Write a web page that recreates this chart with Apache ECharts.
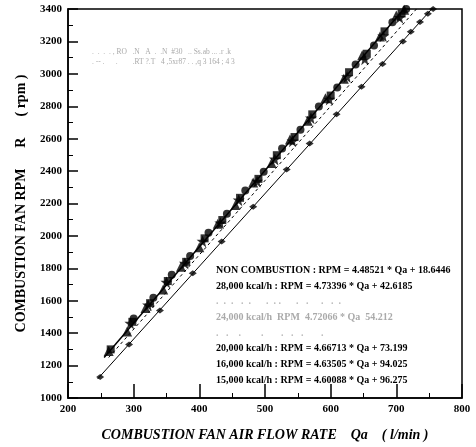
<!DOCTYPE html>
<html>
<head>
<meta charset="utf-8">
<script src="https://cdn.jsdelivr.net/npm/echarts@6/dist/echarts.min.js"></script>
<style>
  html, body { margin: 0; padding: 0; background: #fff; }
  #chart { width: 476px; height: 447px; }
</style>
</head>
<body>
<div id="chart"></div>
<script>
// data (Qa in l/min, RPM)
var nonComb = [[249,1130],[293,1330],[340,1540],[390,1770],[434,1965],[482,2180],[533,2410],
  [568,2570],[609,2750],[647,2920],[679,3060],[710,3200],[722,3260],[736,3320],[748,3370],[756,3400]];
var kcal28000 = [[262,1290],[290,1410],[318,1555],[345,1670],[372,1810],[400,1930],[428,2075],
  [455,2190],[482,2330],[510,2450],[538,2595],[565,2710],[592,2850],[620,2970],[648,3115],[675,3230],[700,3360],[712,3395]];
var kcal20000 = [[265,1300],[298,1470],[325,1585],[352,1722],[380,1840],[408,1985],[435,2098],
  [462,2235],[490,2352],[518,2498],[545,2610],[572,2750],[600,2866],[628,3010],[655,3124],[682,3262],[708,3372]];
var kcal16000 = [[300,1490],[330,1618],[358,1760],[386,1876],[414,2020],[442,2137],[470,2280],
  [498,2396],[526,2540],[554,2655],[582,2798],[610,2915],[638,3058],[666,3175],[694,3318],[715,3400]];
var kcal15000 = [[295,1460],[322,1572],[350,1712],[378,1830],[405,1966],[432,2078],[460,2220],
  [488,2336],[515,2472],[542,2584],[570,2726],[598,2842],[625,2980],[652,3090],[680,3232],[705,3346]];
// fitted lines (end points)
var fitNon = [[245,1117],[765,3450]];
var fitBand = [[255,1250],[720,3440]];
var fitDashed = [[262,1250],[735,3420]];

var eqLabels = [
  'NON COMBUSTION : RPM = 4.48521 * Qa + 18.6446',
  '28,000 kcal/h : RPM = 4.73396 * Qa + 42.6185',
  '.  .  .   .  .      .  . .      .   .     .   .  .',
  '24,000 kcal/h  RPM  4.72066 * Qa  54.212',
  '.   .    .        .       .   .   .       .',
  '20,000 kcal/h : RPM = 4.66713 * Qa + 73.199',
  '16,000 kcal/h : RPM = 4.63505 * Qa + 94.025',
  '15,000 kcal/h : RPM = 4.60088 * Qa + 96.275'
];
var eqColors = ['#000', '#000', '#bbb', '#aaa', '#bbb', '#000', '#000', '#000'];
var fadedTop = [
  '.  .  .  . , RO   .N   A  .  .N  #30   .. Ss.ab ... .r .k',
  '. -- .      .        .RT ?.T   4 ,5xr87 . . ,q 3 164 ; 4 3'
];

var serif = '"Liberation Serif", "DejaVu Serif", serif';
var chart = echarts.init(document.getElementById('chart'));

var graphics = [];
var ys = [270, 286, 301, 317, 333, 348, 364, 380];
for (let i = 0; i < eqLabels.length; i++) {
  graphics.push({
    type: 'text', left: 216, top: ys[i] - 5,
    style: { text: eqLabels[i], fill: eqColors[i], font: 'bold 10px ' + serif }
  });
}
for (let i = 0; i < fadedTop.length; i++) {
  graphics.push({
    type: 'text', left: 92, top: 48 + i * 10,
    style: { text: fadedTop[i], fill: '#aaa', font: '7.5px ' + serif }
  });
}

function scatter(data, symbol, size) {
  return {
    type: 'scatter', data: data, symbol: symbol, symbolSize: size,
    itemStyle: { color: '#000' }, z: 3
  };
}
function line(data, type, width) {
  return {
    type: 'line', data: data, showSymbol: false, symbol: 'none',
    lineStyle: { color: '#000', width: width, type: type }, z: 2
  };
}
var plainNum = function(v) { return String(v); };

chart.setOption({
  animation: false,
  grid: { left: 68, right: 14, top: 9, bottom: 44, show: true, borderColor: '#000', borderWidth: 1.5 },
  xAxis: {
    type: 'value', min: 200, max: 800, interval: 100,
    name: 'COMBUSTION FAN AIR FLOW RATE    Qa    ( l/min )',
    nameLocation: 'middle', nameGap: 30,
    nameTextStyle: { fontFamily: serif, fontWeight: 'bold', fontStyle: 'italic', fontSize: 14, color: '#000' },
    axisLine: { lineStyle: { color: '#000', width: 1.5 } },
    axisTick: { inside: true, length: 14, lineStyle: { color: '#000', width: 1.5 } },
    minorTick: { show: true, splitNumber: 2, length: 5, lineStyle: { color: '#000' } },
    splitLine: { show: false },
    axisLabel: { fontFamily: serif, fontWeight: 'bold', fontSize: 11, color: '#000', margin: 6, formatter: plainNum }
  },
  yAxis: {
    type: 'value', min: 1000, max: 3400, interval: 200,
    name: 'COMBUSTION FAN RPM      R      ( rpm )',
    nameLocation: 'middle', nameGap: 40,
    nameTextStyle: { fontFamily: serif, fontWeight: 'bold', fontSize: 14, color: '#000' },
    axisLine: { lineStyle: { color: '#000', width: 1.5 } },
    axisTick: { inside: true, length: 10, lineStyle: { color: '#000', width: 1.5 } },
    minorTick: { show: true, splitNumber: 2, length: 5, lineStyle: { color: '#000' } },
    splitLine: { show: false },
    axisLabel: { fontFamily: serif, fontWeight: 'bold', fontSize: 11, color: '#000', margin: 6, formatter: plainNum }
  },
  graphic: graphics,
  series: [
    line(fitNon, 'solid', 1),
    line(fitBand, 'solid', 1.5),
    line(fitDashed, [3, 3], 1),
    scatter(nonComb, 'diamond', [8, 6]),
    scatter(kcal28000, 'triangle', 10),
    scatter(kcal20000, 'rect', 8),
    scatter(kcal16000, 'circle', 8),
    scatter(kcal15000, 'path://M0,-10L3,-3L10,-3L4,2L6,10L0,5L-6,10L-4,2L-10,-3L-3,-3Z', 12)
  ]
});
</script>
</body>
</html>
